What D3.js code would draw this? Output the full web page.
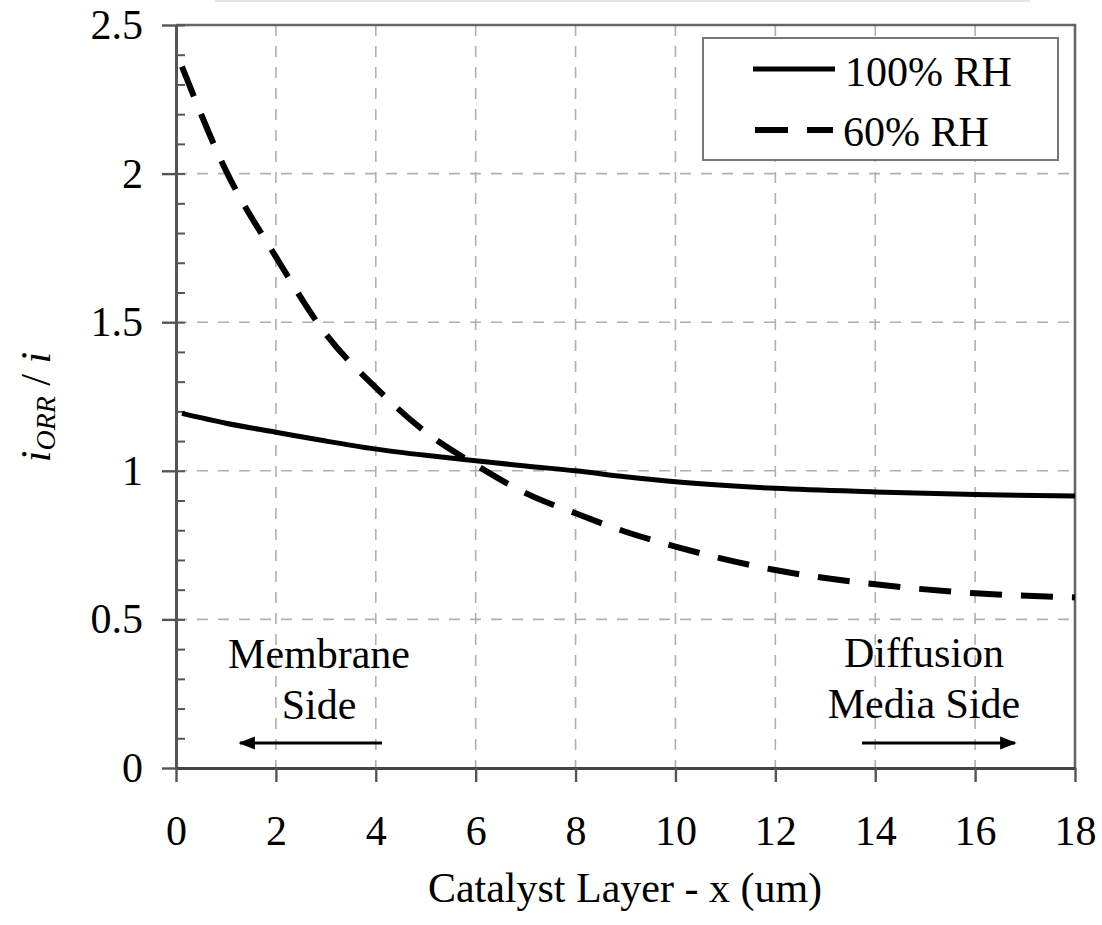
<!DOCTYPE html>
<html>
<head>
<meta charset="utf-8">
<script src="https://cdn.jsdelivr.net/npm/d3@7"></script>
<style>
  html, body { margin: 0; padding: 0; background: #fff; }
  svg { display: block; font-family: "Liberation Serif", "Times New Roman", serif; }
</style>
</head>
<body>
<svg id="chart" width="1102" height="925"></svg>
<script>
// Position through the catalyst layer (um) and normalised ORR current
const xPositions = [0.12, 1, 2, 3, 4, 5, 6, 7, 8, 9, 10, 12, 14, 16, 18];
const rh100 = [1.193, 1.16, 1.13, 1.10, 1.073, 1.052, 1.034, 1.016, 1.000, 0.980, 0.963, 0.941, 0.929, 0.920, 0.915];
const rh60  = [2.36, 2.01, 1.72, 1.46, 1.28, 1.13, 1.02, 0.925, 0.857, 0.795, 0.745, 0.666, 0.618, 0.588, 0.574];
const seriesNames = ["100% RH", "60% RH"];
const xTicks = [0, 2, 4, 6, 8, 10, 12, 14, 16, 18];
const yTicks = [0, 0.5, 1, 1.5, 2, 2.5];

const margin = { left: 176, top: 25, right: 27, bottom: 157 };
const W = 1102, H = 925;
const iw = W - margin.left - margin.right;   // 899
const ih = H - margin.top - margin.bottom;   // 743

const svg = d3.select("#chart");
const FONT = 42;
const SERIF = "Liberation Serif, Times New Roman, serif";

// faint edge along the top of the page
svg.append("line")
  .attr("x1", 215).attr("x2", 1030).attr("y1", 1).attr("y2", 1)
  .attr("stroke", "#e4e4e4").attr("stroke-width", 2);

const g = svg.append("g").attr("transform", `translate(${margin.left},${margin.top})`);

const x = d3.scaleLinear().domain([0, 18]).range([0, iw]);
const y = d3.scaleLinear().domain([0, 2.5]).range([ih, 0]);

// dashed grid
const gridStyle = sel => sel.attr("stroke", "#b0b0b0").attr("stroke-width", 1.6).attr("stroke-dasharray", "11,10");
g.append("g").selectAll("line").data(xTicks.filter(d => d > 0 && d < 18)).join("line")
  .attr("x1", d => x(d)).attr("x2", d => x(d)).attr("y1", 0).attr("y2", ih)
  .call(gridStyle);
g.append("g").selectAll("line").data(yTicks.filter(d => d > 0 && d < 2.5)).join("line")
  .attr("x1", 0).attr("x2", iw).attr("y1", d => y(d)).attr("y2", d => y(d))
  .call(gridStyle);

// top and right frame
g.append("path")
  .attr("d", `M0,0H${iw}V${ih}`)
  .attr("fill", "none").attr("stroke", "#666").attr("stroke-width", 2.6);

// minor y ticks (inside)
const yMinor = g.append("g")
  .call(d3.axisLeft(y).tickValues(d3.range(0, 26).map(i => i / 10)).tickSize(-9).tickSizeOuter(0).tickFormat(""));
yMinor.select(".domain").remove();
yMinor.selectAll("line").attr("stroke", "#555").attr("stroke-width", 2);

// major y axis
const yAxis = g.append("g")
  .call(d3.axisLeft(y).tickValues(yTicks).tickSize(14).tickSizeOuter(0).tickPadding(19).tickFormat(d3.format("")));
yAxis.select(".domain").attr("stroke", "#555").attr("stroke-width", 3);
yAxis.selectAll("line").attr("stroke", "#555").attr("stroke-width", 2.4);
yAxis.selectAll("text").attr("font-size", FONT).attr("fill", "#000").attr("font-family", SERIF);

// x axis
const xAxis = g.append("g").attr("transform", `translate(0,${ih})`)
  .call(d3.axisBottom(x).tickValues(xTicks).tickSize(14).tickSizeOuter(0));
xAxis.select(".domain").attr("stroke", "#444").attr("stroke-width", 3);
xAxis.selectAll("line").attr("stroke", "#555").attr("stroke-width", 2.4);
xAxis.selectAll("text").attr("font-size", FONT).attr("fill", "#000").attr("font-family", SERIF)
  .attr("y", 77).attr("dy", 0);

// curves
const line = d3.line().x(d => x(d[0])).y(d => y(d[1])).curve(d3.curveMonotoneX);
g.append("path")
  .datum(xPositions.map((v, i) => [v, rh100[i]]))
  .attr("d", line).attr("fill", "none").attr("stroke", "#000").attr("stroke-width", 5);
g.append("path")
  .datum(xPositions.map((v, i) => [v, rh60[i]]))
  .attr("d", line).attr("fill", "none").attr("stroke", "#000").attr("stroke-width", 6)
  .attr("stroke-dasharray", "32,19");

// legend
const leg = svg.append("g");
leg.append("rect").attr("x", 703).attr("y", 38).attr("width", 355).attr("height", 122)
  .attr("fill", "#fff").attr("stroke", "#777").attr("stroke-width", 2);
leg.append("line").attr("x1", 753).attr("x2", 835).attr("y1", 69).attr("y2", 69)
  .attr("stroke", "#000").attr("stroke-width", 5);
leg.append("line").attr("x1", 755).attr("x2", 833).attr("y1", 130).attr("y2", 130)
  .attr("stroke", "#000").attr("stroke-width", 6).attr("stroke-dasharray", "33,19");
leg.append("text").attr("x", 845).attr("y", 86).attr("font-size", FONT).attr("fill", "#000").text(seriesNames[0]);
leg.append("text").attr("x", 843).attr("y", 146).attr("font-size", FONT).attr("fill", "#000").text(seriesNames[1]);

// side annotations with arrows
svg.append("defs").append("marker")
  .attr("id", "head").attr("viewBox", "0 0 10 10").attr("refX", 9).attr("refY", 5)
  .attr("markerWidth", 5.5).attr("markerHeight", 4.4).attr("markerUnits", "strokeWidth")
  .attr("preserveAspectRatio", "none")
  .attr("orient", "auto")
  .append("path").attr("d", "M0,0L10,5L0,10Z").attr("fill", "#000");

const note = (cx, lines, yb) => lines.forEach((t, i) =>
  svg.append("text").attr("x", cx).attr("y", yb[i]).attr("text-anchor", "middle")
    .attr("font-size", FONT).attr("fill", "#000").text(t));
note(319, ["Membrane", "Side"], [668, 719]);
note(924, ["Diffusion", "Media Side"], [667, 718]);

svg.append("line").attr("x1", 382).attr("x2", 240).attr("y1", 743).attr("y2", 743)
  .attr("stroke", "#000").attr("stroke-width", 3).attr("marker-end", "url(#head)");
svg.append("line").attr("x1", 862).attr("x2", 1015).attr("y1", 743).attr("y2", 743)
  .attr("stroke", "#000").attr("stroke-width", 3).attr("marker-end", "url(#head)");

// axis titles
svg.append("text").attr("x", 625).attr("y", 902).attr("text-anchor", "middle")
  .attr("font-size", FONT).attr("fill", "#000").text("Catalyst Layer - x (um)");

const yt = svg.append("text")
  .attr("transform", "translate(50,407) rotate(-90)")
  .attr("text-anchor", "middle").attr("font-size", FONT).attr("fill", "#000")
  .attr("font-style", "italic");
yt.append("tspan").text("i");
yt.append("tspan").attr("font-size", 28).attr("dy", 5).text("ORR");
yt.append("tspan").attr("dy", -5).attr("font-style", "normal").text(" / ");
yt.append("tspan").text("i");
</script>
</body>
</html>
